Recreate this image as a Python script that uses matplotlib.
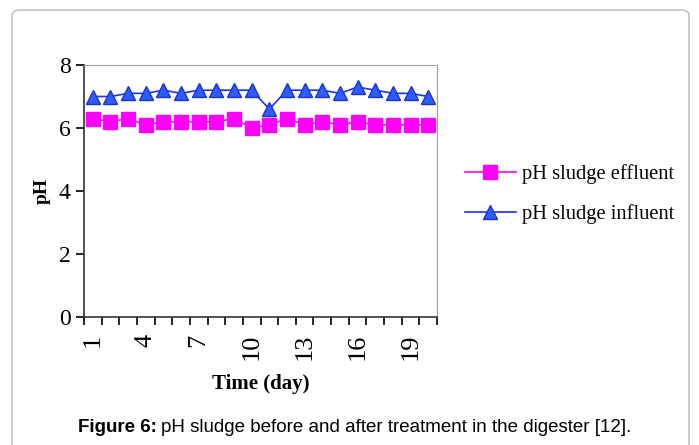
import numpy as np
import matplotlib
matplotlib.use("Agg")
import matplotlib.pyplot as plt
from matplotlib.patches import FancyBboxPatch

# Data
days = list(range(1, 21))
ph_effluent = [6.3, 6.2, 6.3, 6.1, 6.2, 6.2, 6.2, 6.2, 6.3, 6.0,
               6.1, 6.3, 6.1, 6.2, 6.1, 6.2, 6.1, 6.1, 6.1, 6.1]
ph_influent = [7.0, 7.0, 7.1, 7.1, 7.2, 7.1, 7.2, 7.2, 7.2, 7.2,
               6.6, 7.2, 7.2, 7.2, 7.1, 7.3, 7.2, 7.1, 7.1, 7.0]
y_ticks = [0, 2, 4, 6, 8]
x_label_days = [1, 4, 7, 10, 13, 16, 19]

W, H = 699, 445
fig = plt.figure(figsize=(W / 100, H / 100), dpi=100)

# rounded frame around the figure
frame = FancyBboxPatch((12 / W, -0.05), 677 / W, 1 - 10 / H + 0.05,
                       boxstyle="round,pad=0,rounding_size=0.012",
                       transform=fig.transFigure, fill=False,
                       edgecolor="#b8b8b8", linewidth=1.0)
fig.patches.append(frame)

ax = fig.add_axes([84 / W, 1 - 317 / H, (437 - 84) / W, (317 - 65) / H])

ax.plot(days, ph_effluent, color="#ff00ff", marker="s", markersize=10,
        markerfacecolor="#ff00ff", markeredgecolor="#ff00ff", linewidth=1.2,
        label="pH sludge effluent")
ax.plot(days, ph_influent, color="#1a33ff", marker="^", markersize=10,
        markerfacecolor="#2f5cff", markeredgecolor="#1a33cc", linewidth=1.2,
        label="pH sludge influent")

ax.set_xlim(0.5, 20.5)
ax.set_ylim(0, 8)
ax.set_yticks(y_ticks)
ax.set_xticks(np.arange(0.5, 21, 1), minor=False)
ax.set_xticklabels([])
ax.set_xticks(x_label_days, minor=True)
ax.set_xticklabels([str(d) for d in x_label_days], minor=True, rotation=90,
                   fontsize=19, family="Liberation Serif")
ax.tick_params(axis="x", which="minor", length=0, pad=12)
ax.tick_params(axis="x", which="major", length=6, direction="out", width=1.2)
ax.tick_params(axis="y", length=6, direction="out", width=1.2, labelsize=17)
for lbl in ax.get_yticklabels():
    lbl.set_family("Liberation Serif")

for side in ["top", "right"]:
    ax.spines[side].set_color("#a0a0a0")
for side in ["left", "bottom"]:
    ax.spines[side].set_linewidth(1.2)
    ax.spines[side].set_color("#333333")

ax.set_ylabel("pH", fontsize=14, fontweight="bold", family="Liberation Serif",
              labelpad=6)
ax.set_xlabel("Time (day)", fontsize=15, fontweight="bold",
              family="Liberation Serif", labelpad=10)

fig.legend(loc="upper left", bbox_to_anchor=(446 / W, 1 - 146 / H),
           frameon=False, prop={"family": "Liberation Serif", "size": 14.8},
           handlelength=2.5, labelspacing=0.95, handletextpad=0.3)

t1 = fig.text(78 / W, 1 - 427 / H, "Figure 6:", fontsize=13.5, fontweight="bold",
              family="Liberation Sans", va="center", ha="left")
fig.canvas.draw()
bb = t1.get_window_extent()
fig.text(bb.x1 / W + 4 / W, 1 - 427 / H,
         "pH sludge before and after treatment in the digester [12].",
         fontsize=13.5, family="Liberation Sans", va="center", ha="left")

fig.savefig("out.png", dpi=100)
